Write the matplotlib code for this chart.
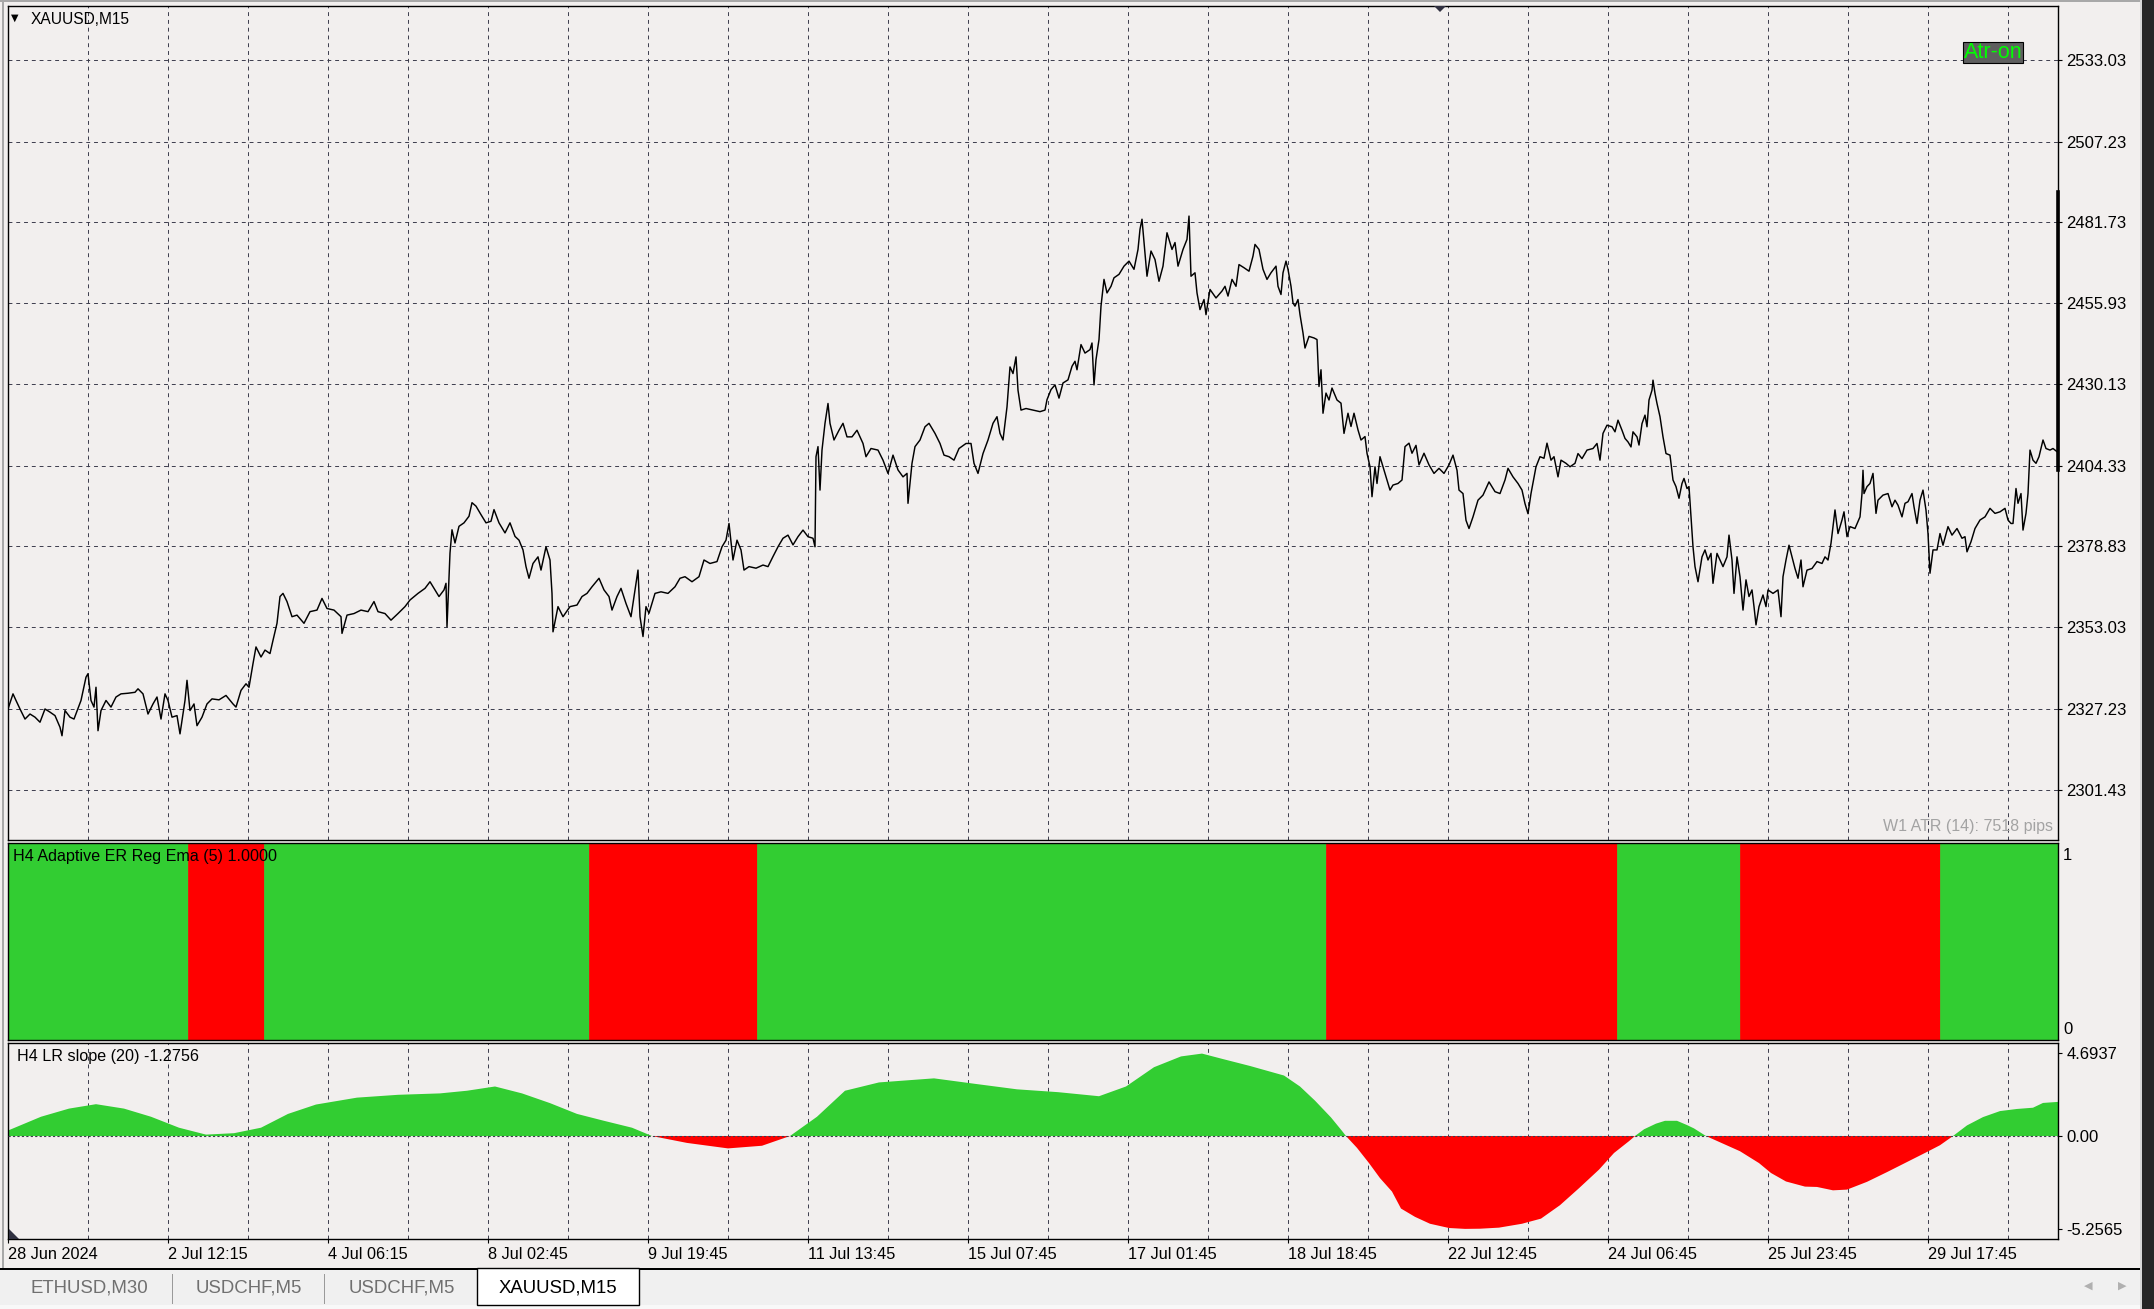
import matplotlib
matplotlib.use("Agg")
import matplotlib.pyplot as plt
from matplotlib.patches import Rectangle, Polygon
from matplotlib.transforms import Affine2D
import numpy as np

# ---------------- data ----------------
symbol_title = "XAUUSD,M15"
time_labels = ["28 Jun 2024", "2 Jul 12:15", "4 Jul 06:15", "8 Jul 02:45", "9 Jul 19:45",
               "11 Jul 13:45", "15 Jul 07:45", "17 Jul 01:45", "18 Jul 18:45", "22 Jul 12:45",
               "24 Jul 06:45", "25 Jul 23:45", "29 Jul 17:45"]
price_levels = [2533.03, 2507.23, 2481.73, 2455.93, 2430.13, 2404.33, 2378.83, 2353.03, 2327.23, 2301.43]

close_bar = [0, 5, 8, 12, 17, 22, 27, 32, 37, 42, 47, 52, 54, 57, 62, 66, 73, 78, 80, 83, 86, 88, 90, 93, 98,
             103, 108, 113, 120, 127, 130, 135, 140, 145, 149, 153, 157, 160, 164, 169, 172, 177, 179, 182, 186,
             189, 194, 199, 204, 211, 218, 225, 228, 233, 238, 241, 245, 248, 253, 257, 262, 265, 269, 272, 275,
             279, 284, 289, 296, 302, 309, 314, 319, 326, 333, 334, 339, 346, 353, 360, 366, 370, 377, 383, 390,
             397, 402, 410, 417, 422, 427, 431, 436, 438, 439, 441, 442, 444, 447, 451, 456, 461, 464, 468, 473,
             478, 483, 486, 491, 497, 502, 507,
             511, 515, 518, 521, 525, 530, 533, 538, 542, 544, 545, 550, 555, 562, 569, 574, 579, 584, 591, 596,
             601, 604, 609, 613, 618, 623, 627, 630, 632, 635, 638, 641, 647, 653, 660, 667, 672, 677, 684, 691,
             696, 702, 709, 714, 718, 721, 725, 729, 733, 736, 741, 748, 755, 760, 765, 770, 775, 780, 785, 790,
             795, 800, 805, 807, 808, 810, 812, 814, 817, 820, 822, 826, 831, 835, 839, 844, 849, 855, 858, 863,
             870, 875, 880, 885, 890, 895, 899, 900, 904, 907, 912, 917, 921, 927, 932, 936, 941, 946, 951, 958,
             963, 966, 970, 975, 980, 985, 989, 992, 995, 999, 1002, 1005, 1008, 1010, 1013, 1018, 1025, 1032, 1037,
             1039, 1043, 1047, 1051, 1055, 1060, 1064, 1067, 1069, 1073, 1077, 1082, 1084, 1086, 1088, 1091, 1093,
             1096, 1099, 1103, 1106, 1111, 1116, 1121, 1126, 1130, 1132, 1134, 1136, 1139, 1143, 1147, 1151, 1155,
             1159, 1164, 1167, 1170, 1175, 1179, 1181, 1183, 1187, 1189, 1192, 1196, 1198, 1202, 1208, 1214, 1217,
             1220, 1224, 1228, 1231, 1236, 1241, 1245, 1247, 1251, 1255, 1259, 1263, 1268, 1270, 1273, 1275, 1278,
             1280, 1283, 1285, 1287, 1290, 1292, 1295, 1297, 1301, 1306, 1309, 1311, 1313, 1315, 1318, 1321, 1324,
             1329, 1333, 1336, 1340, 1343, 1346, 1350, 1353, 1357, 1359, 1362, 1364, 1367, 1369, 1372, 1375, 1379,
             1382, 1385, 1390, 1394, 1397, 1401, 1404, 1408, 1411, 1416, 1421, 1426, 1431, 1436, 1441, 1445, 1449,
             1451, 1455, 1458, 1461, 1465, 1470, 1475, 1481, 1487, 1492, 1497, 1500, 1505, 1510, 1514, 1517, 1520,
             1523, 1528, 1532, 1536, 1539, 1543, 1546, 1550, 1553, 1558,
             1562, 1567, 1570, 1574, 1579, 1585, 1589, 1592, 1595, 1599, 1604, 1607, 1610, 1614, 1617, 1620, 1623,
             1625, 1629, 1631, 1634, 1637, 1639, 1641, 1644, 1645, 1647, 1649, 1652, 1655, 1658, 1662, 1665, 1668,
             1671, 1674, 1676, 1679, 1681, 1683, 1685, 1687, 1690, 1694, 1697, 1700, 1703, 1705, 1709, 1712, 1715,
             1719, 1721, 1724, 1726, 1729, 1732, 1735, 1738, 1741, 1744, 1746, 1748, 1751, 1755, 1758, 1760, 1765,
             1770, 1773, 1775, 1778, 1781, 1784, 1787, 1790, 1793, 1795, 1799, 1804, 1809, 1814, 1817, 1820, 1823,
             1825, 1827, 1830, 1834, 1836, 1839, 1842, 1847, 1852, 1854, 1855, 1856, 1859, 1862, 1865, 1868, 1870,
             1875, 1880, 1884, 1887, 1890, 1894, 1897, 1900, 1904, 1906, 1909, 1912, 1915, 1918, 1920, 1922, 1925,
             1929, 1932, 1935, 1940, 1944, 1949, 1954, 1957, 1959, 1963, 1967, 1972, 1977, 1982, 1987, 1992, 1997,
             2000, 2003, 2005, 2008, 2010, 2013, 2015, 2018, 2020, 2022, 2025, 2028, 2031, 2035, 2038, 2042, 2045,
             2049]
close_price = [2327.1, 2331.9, 2329.8, 2327.1, 2323.9, 2325.5, 2324.5, 2322.9, 2327.1, 2326.1, 2325.0, 2321.3,
               2318.6, 2326.6, 2324.5, 2323.9, 2329.8, 2337.2, 2338.3, 2329.8, 2327.7, 2334.0, 2320.2, 2326.6,
               2329.8, 2327.7, 2330.9, 2331.9, 2332.1, 2332.4, 2333.5, 2331.9, 2325.5, 2328.7, 2330.9, 2323.9,
               2331.9, 2329.8, 2324.5, 2325.0, 2319.2, 2329.8, 2336.2, 2326.6, 2328.7, 2321.8, 2324.5, 2328.7,
               2330.3, 2330.0, 2331.4, 2328.7, 2327.7, 2333.0, 2335.1, 2334.0, 2341.5, 2346.8, 2343.6, 2345.8,
               2344.7, 2348.9, 2354.3, 2362.8, 2363.8, 2361.2, 2356.4, 2356.9, 2354.3, 2358.0, 2358.5, 2362.2,
               2359.0, 2358.5, 2356.4, 2351.1, 2356.9, 2357.4, 2358.5, 2358.0, 2361.2, 2358.0, 2357.4, 2355.3,
               2357.4, 2359.6, 2361.7, 2363.8, 2365.4, 2367.5, 2364.9, 2362.8, 2364.9, 2367.0, 2353.2, 2369.2,
               2376.6, 2384.0, 2379.8, 2385.1, 2386.2, 2388.3, 2392.6, 2391.5, 2388.8, 2386.2, 2386.7, 2390.4,
               2386.2, 2383.0, 2386.2, 2381.9,
               2380.7, 2377.6, 2372.3, 2368.6, 2373.3, 2375.4, 2371.2, 2378.6, 2374.4, 2363.8, 2351.6, 2359.6,
               2356.4, 2359.6, 2360.1, 2362.8, 2363.8, 2365.9, 2368.6, 2364.9, 2362.8, 2358.5, 2362.8, 2365.4,
               2360.6, 2356.4, 2364.9, 2371.2, 2356.4, 2350.1, 2359.6, 2357.5, 2363.8, 2364.3, 2363.8, 2365.9,
               2368.6, 2369.1, 2367.5, 2369.1, 2374.4, 2373.3, 2373.9, 2378.6, 2380.7, 2386.0, 2374.4, 2380.7,
               2377.6, 2371.2, 2372.3, 2371.8, 2372.8, 2372.3, 2375.5, 2378.6, 2381.3, 2382.3, 2379.2, 2381.8,
               2383.9, 2381.8, 2381.3, 2378.6, 2407.2, 2410.4, 2396.6, 2409.3, 2417.8, 2424.1, 2417.8, 2412.5,
               2415.6, 2417.8, 2413.5, 2413.5, 2415.6, 2411.4, 2407.2, 2409.8, 2409.3, 2406.1, 2401.9, 2407.7,
               2403.0, 2400.8, 2401.9, 2392.4, 2405.1, 2410.4, 2412.5, 2416.7, 2417.8, 2414.6, 2411.4, 2407.7,
               2407.2, 2406.1, 2409.8, 2411.4, 2411.4, 2405.1, 2401.9, 2408.2, 2412.5, 2417.8, 2419.9, 2414.6,
               2412.5, 2423.0, 2435.7, 2433.6, 2438.9, 2428.3, 2422.0, 2422.5, 2422.0, 2421.5, 2422.0,
               2425.3, 2428.5, 2430.0, 2425.8, 2430.6, 2431.6, 2435.9, 2437.5, 2434.8, 2442.8, 2440.1, 2441.2,
               2443.3, 2430.0, 2438.0, 2444.4, 2455.0, 2463.5, 2459.2, 2461.3, 2464.0, 2465.1, 2467.7, 2469.3,
               2466.7, 2473.0, 2479.4, 2482.6, 2475.2, 2464.5, 2472.5, 2469.8, 2462.9, 2467.7, 2478.3, 2473.0,
               2475.2, 2467.7, 2473.0, 2476.2, 2483.6, 2464.5, 2465.6, 2459.2, 2453.9, 2457.1, 2452.3, 2460.3,
               2457.6, 2459.8, 2461.3, 2458.2, 2463.5, 2461.3, 2468.2, 2467.2, 2466.1, 2470.9, 2474.6, 2473.0,
               2466.7, 2463.5, 2465.6, 2467.7, 2461.3, 2458.7, 2465.6, 2469.3, 2466.7, 2461.3, 2456.0, 2455.0,
               2457.1, 2452.3, 2446.5, 2441.7, 2445.4, 2444.9, 2444.4, 2429.5, 2434.8, 2421.0, 2427.4, 2425.2,
               2429.0, 2425.2, 2424.2, 2414.6, 2421.0, 2416.8, 2421.0, 2415.7, 2412.5, 2413.6, 2408.3, 2404.0,
               2394.5, 2404.0, 2398.7, 2407.2, 2404.0, 2399.8, 2396.6, 2398.2, 2398.7, 2399.8, 2410.4, 2411.5,
               2408.3, 2410.8, 2404.6, 2408.3, 2404.6, 2401.9, 2403.5, 2401.9, 2404.6, 2407.7, 2402.9, 2396.6,
               2395.5, 2387.0, 2384.4, 2388.1, 2393.4, 2395.0, 2399.2, 2396.1, 2395.5, 2399.8, 2403.5, 2400.8,
               2398.7, 2396.6, 2392.3, 2389.1, 2395.5, 2404.0, 2407.2, 2406.7, 2411.5, 2406.1, 2407.2, 2400.8,
               2406.1, 2405.1,
               2404.0, 2405.1, 2408.2, 2406.6, 2409.3, 2409.8, 2411.4, 2406.1, 2414.6, 2417.2, 2416.7, 2415.1,
               2418.8, 2415.6, 2413.0, 2411.9, 2410.3, 2415.1, 2413.5, 2410.9, 2417.7, 2420.4, 2416.7, 2425.2,
               2428.3, 2431.5, 2427.3, 2424.1, 2419.9, 2413.5, 2408.2, 2407.7, 2399.8, 2397.7, 2394.0, 2398.7,
               2400.3, 2397.1, 2397.7, 2388.1, 2378.6, 2372.3, 2367.5, 2375.4, 2377.6, 2374.4, 2376.5, 2367.0,
               2376.5, 2374.4, 2372.3, 2375.4, 2382.3, 2374.4, 2363.8, 2375.4, 2369.1, 2358.5, 2368.1, 2362.8,
               2364.9, 2359.6, 2353.8, 2359.6, 2363.3, 2359.6, 2364.9, 2363.8, 2364.9, 2356.4, 2369.1, 2374.4,
               2379.1, 2375.4, 2371.7, 2368.6, 2374.4, 2365.9, 2371.2, 2371.7, 2373.9, 2373.3, 2375.4, 2374.4,
               2379.7, 2385.0, 2390.3, 2382.8, 2387.1, 2389.7, 2381.8, 2385.0, 2384.4, 2388.1, 2395.5, 2402.9,
               2395.5, 2397.7, 2398.7, 2401.9, 2389.2, 2393.4, 2395.0, 2395.5, 2391.3, 2393.4, 2391.8, 2388.1,
               2392.4, 2392.9, 2395.5, 2391.3, 2386.0, 2393.4, 2396.6, 2390.2, 2382.8, 2370.2, 2377.6, 2377.6,
               2382.8, 2379.1, 2385.0, 2382.3, 2384.4, 2381.3, 2381.8, 2377.0, 2380.2, 2384.4, 2387.1, 2388.1,
               2390.8, 2389.2, 2389.7, 2390.8, 2387.1, 2386.0, 2386.0, 2397.1, 2392.4, 2395.5, 2383.9, 2389.2,
               2395.5, 2409.3, 2406.1, 2405.1, 2407.2, 2412.5, 2409.8, 2409.3, 2409.8, 2408.8]
last_bar_range = [2403.0, 2491.2]

er_bounds = [0, 180, 256, 581, 749, 1318, 1609, 1732, 1932, 2050]
er_state = [1, 0, 1, 0, 1, 0, 1, 0, 1]        # 1 = up (green), 0 = down (red)
er_labels = ["1", "0"]

slope_bar = [0, 33, 61, 88, 116, 143, 171, 198, 226, 253, 280, 308, 349, 390, 432, 459, 487, 514, 542, 569,
             596, 624, 644, 679, 720, 754, 782, 809, 837, 871, 926, 967, 1009, 1050, 1091, 1118, 1146, 1173,
             1194, 1215, 1242, 1276, 1292, 1307, 1323, 1334, 1338, 1349, 1361, 1372, 1384, 1393, 1407, 1422,
             1441, 1457, 1472, 1491, 1514, 1533, 1552, 1571, 1591, 1606, 1621, 1627, 1636, 1648, 1657, 1669,
             1679, 1686, 1698, 1713, 1732, 1751, 1763, 1778, 1797, 1809, 1825, 1839, 1859, 1879, 1899, 1919,
             1932, 1945, 1959, 1975, 1992, 2009, 2025, 2035, 2050]
slope_val = [0.31, 1.09, 1.55, 1.80, 1.55, 1.09, 0.47, 0.08, 0.16, 0.47, 1.25, 1.78, 2.17, 2.33, 2.41, 2.56,
             2.80, 2.41, 1.86, 1.25, 0.86, 0.47, 0.0, -0.39, -0.70, -0.55, 0.0, 1.09, 2.56, 3.03, 3.26, 2.95,
             2.64, 2.48, 2.25, 2.80, 3.89, 4.50, 4.66, 4.35, 3.96, 3.42, 2.80, 2.00, 1.05, 0.29, 0.0, -0.67,
             -1.53, -2.38, -3.14, -4.10, -4.57, -4.96, -5.20, -5.25, -5.24, -5.18, -4.96, -4.67, -3.91, -2.95,
             -1.90, -0.96, -0.29, 0.0, 0.38, 0.70, 0.86, 0.86, 0.62, 0.43, 0.0, -0.38, -0.86, -1.53, -2.09,
             -2.57, -2.86, -2.88, -3.07, -3.03, -2.59, -2.04, -1.47, -0.90, -0.52, 0.0, 0.60, 1.07, 1.41, 1.53,
             1.60, 1.87, 1.93]
slope_ticks = [4.6937, 0.0, -5.2565]
slope_tick_labels = ["4.6937", "0.00", "-5.2565"]

tab_names = ["ETHUSD,M30", "USDCHF,M5", "USDCHF,M5", "XAUUSD,M15"]
active_tab = 3

# ---------------- style ----------------
W, H = 2154, 1309
BG = "#f2efee"
GRID = "#3c3c4c"
GREEN = "#32cd32"
RED = "#ff0000"
FONT = ["Liberation Sans", "DejaVu Sans"]
plt.rcParams["font.family"] = FONT
DASH = (0, (4, 4))
FS = 12

fig = plt.figure(figsize=(W / 100, H / 100), dpi=100)
fig.patch.set_facecolor(BG)
PX = Affine2D().scale(1.0 / W, -1.0 / H).translate(0, 1) + fig.transFigure


def panel(top, bottom):
    ax = fig.add_axes([8 / W, 1 - bottom / H, 2050 / W, (bottom - top) / H])
    ax.set_facecolor(BG)
    for s in ax.spines.values():
        s.set_color("black")
        s.set_linewidth(1.0)
    ax.set_xlim(0, 2050)
    ax.set_axisbelow(True)
    return ax


n_lab = len(time_labels)
label_pos = [160 * i for i in range(n_lab)]
grid_pos = [80 * i for i in range(1, 26)]

# ---- main price panel ----
ax1 = panel(6, 840)
ax1.set_ylim(2285.5, 2550.3)
ax1.yaxis.tick_right()
ax1.set_yticks(price_levels)
ax1.set_yticklabels([f"{v:.2f}" for v in price_levels])
ax1.tick_params(axis="y", direction="out", length=3, width=0.8, pad=3, labelsize=FS)
ax1.set_xticks(grid_pos)
ax1.tick_params(axis="x", length=0, labelbottom=False)
ax1.grid(True, linestyle=DASH, color=GRID, linewidth=0.7)
ax1.plot(close_bar, close_price, color="black", linewidth=1.05, zorder=3)
ax1.plot([2050, 2050], last_bar_range, color="black", linewidth=2.6, clip_on=False, zorder=4)

# ---- ER regime histogram ----
ax2 = panel(843, 1040)
ax2.set_ylim(0, 1)
lefts = er_bounds[:-1]
widths = [er_bounds[i + 1] - er_bounds[i] for i in range(len(lefts))]
cols = [GREEN if s == 1 else RED for s in er_state]
ax2.bar(lefts, [1.0] * len(lefts), width=widths, align="edge", color=cols, edgecolor=cols, linewidth=0.5)
ax2.set_xticks([])
ax2.set_yticks([])

# ---- LR slope panel ----
ax3 = panel(1043, 1239)
ax3.set_ylim(-5.822, 5.259)
sb = np.array(slope_bar, dtype=float)
sv = np.array(slope_val, dtype=float)
ax3.fill_between(sb, sv, 0, where=sv >= 0, interpolate=True, color=GREEN, linewidth=0, zorder=2)
ax3.fill_between(sb, sv, 0, where=sv <= 0, interpolate=True, color=RED, linewidth=0, zorder=2)
ax3.axhline(0, color=GRID, linestyle=(0, (2, 2)), linewidth=0.8, zorder=3)
ax3.yaxis.tick_right()
ax3.set_yticks(slope_ticks)
ax3.set_yticklabels(slope_tick_labels)
ax3.tick_params(axis="y", direction="out", length=3, width=0.8, pad=3, labelsize=FS)
ax3.set_xticks(label_pos)
ax3.set_xticklabels(time_labels)
ax3.set_xticks([p for p in grid_pos if p not in label_pos], minor=True)
ax3.tick_params(axis="x", which="major", direction="out", length=3, width=0.8, pad=3, labelsize=11.7)
ax3.tick_params(axis="x", which="minor", length=0)
for lbl in ax3.get_xticklabels():
    lbl.set_horizontalalignment("left")
ax3.grid(True, which="both", axis="x", linestyle=DASH, color=GRID, linewidth=0.7)

# ---------------- texts & decorations ----------------
def ptext(x, y, s, **kw):
    fig.text(x, y, s, transform=PX, **kw)

ptext(11, 18, "\u25bc", fontsize=7, color="black", va="center", ha="left", family=["DejaVu Sans"])
ptext(31, 19, symbol_title, fontsize=11.2, color="black", va="center", ha="left")
ptext(2053, 826, "W1 ATR (14): 7518 pips", fontsize=11.5, color="#a3a3a3", va="center", ha="right")
fig.add_artist(Rectangle((1963, 42), 60, 21, transform=PX, facecolor="#5f5f5f", edgecolor="black",
                         linewidth=0.8))
ptext(1993, 52.5, "Atr-on", fontsize=15.5, color="#00ff00", va="center", ha="center")

ptext(13, 856, "H4 Adaptive ER Reg Ema (5) 1.0000", fontsize=11.6, color="black", va="center", ha="left")
ptext(17, 1056, "H4 LR slope (20) -1.2756", fontsize=11.6, color="black", va="center", ha="left")
ptext(2063, 855, er_labels[0], fontsize=FS, color="black", va="center", ha="left")
ptext(2063, 1030, er_labels[1], fontsize=FS, color="black", va="center", ha="left")

# chart shift marker and corner marker
fig.add_artist(Polygon([(1434, 6), (1446, 6), (1440, 12)], closed=True, transform=PX,
                       facecolor="#303040", edgecolor="none"))
fig.add_artist(Polygon([(9, 1229), (9, 1239), (19, 1239)], closed=True, transform=PX,
                       facecolor="#303040", edgecolor="none"))

# window borders
fig.add_artist(Rectangle((0, 0), 2142, 2, transform=PX, facecolor="#a8a8a8", edgecolor="none"))
fig.add_artist(Rectangle((2, 0), 2, 1269, transform=PX, facecolor="#a8a8a8", edgecolor="none"))
fig.add_artist(Rectangle((2142, 0), 12, H, transform=PX, facecolor="#262626", edgecolor="none"))
fig.add_artist(Rectangle((2140, 0), 2, H, transform=PX, facecolor="#d8d8d8", edgecolor="none"))

# tab bar
fig.add_artist(Rectangle((0, 1269), 2140, 40, transform=PX, facecolor="#f0f0f0", edgecolor="none"))
fig.add_artist(Rectangle((0, 1305), 2140, 4, transform=PX, facecolor="#f8f8f8", edgecolor="none"))
fig.add_artist(Rectangle((0, 1268), 2140, 1.6, transform=PX, facecolor="black", edgecolor="none"))
tab_edges = [4, 172, 324, 477, 639]
for i, name in enumerate(tab_names):
    x0, x1 = tab_edges[i], tab_edges[i + 1]
    if i == active_tab:
        fig.add_artist(Rectangle((x0, 1268), x1 - x0, 37, transform=PX, facecolor="white",
                                 edgecolor="black", linewidth=1.0))
        ptext((x0 + x1) / 2, 1288, name, fontsize=13.4, color="black", va="center", ha="center")
    else:
        ptext((x0 + x1) / 2 + 1, 1288, name, fontsize=13.4, color="#707070", va="center", ha="center")
for xs in tab_edges[1:3]:
    fig.add_artist(Rectangle((xs, 1274), 1.2, 30, transform=PX, facecolor="#9a9a9a", edgecolor="none"))
ptext(2088, 1286, "\u25c0", fontsize=8, color="#b0b0b0", va="center", ha="center", family=["DejaVu Sans"])
ptext(2122, 1286, "\u25b6", fontsize=8, color="#b0b0b0", va="center", ha="center", family=["DejaVu Sans"])

fig.savefig("out.png", dpi=100, facecolor=fig.get_facecolor())
